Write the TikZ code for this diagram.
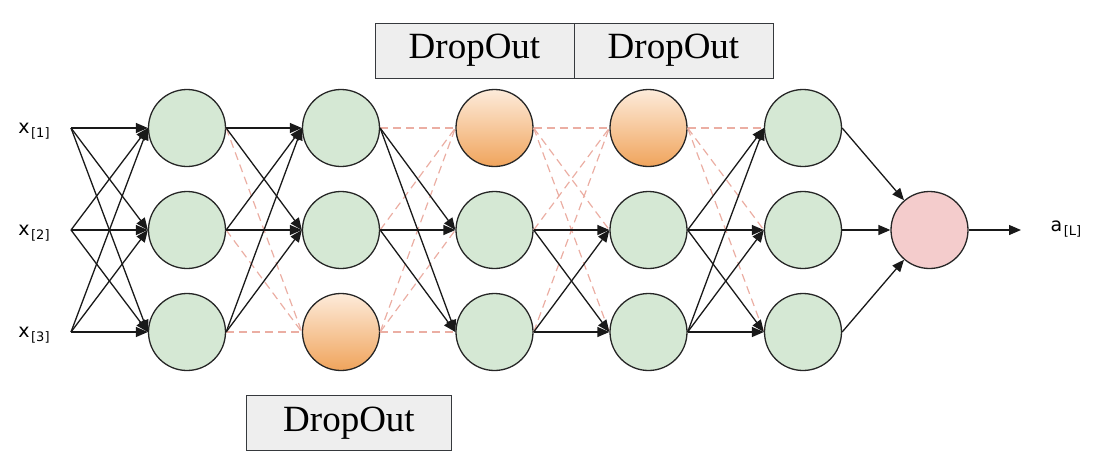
\documentclass[tikz,border=0pt]{standalone}
\usepackage{fontspec}
\setmainfont{Liberation Serif}
\newfontfamily\labelfont{DejaVu Sans}
\usetikzlibrary{arrows.meta}
\definecolor{greenfill}{HTML}{D5E8D4}
\definecolor{orangetop}{HTML}{FDEBDA}
\definecolor{orangebot}{HTML}{F0A45C}
\definecolor{redfill}{HTML}{F4CCCC}
\definecolor{dashcol}{HTML}{EBAEA3}
\definecolor{boxfill}{HTML}{EEEEEE}
\definecolor{boxline}{HTML}{36393D}
\newcommand{\insub}[2]{{\labelfont\fontsize{19}{19}\selectfont #1\hspace{1.5pt}\raisebox{-4.5pt}{\fontsize{13}{13}\selectfont #2}}}
\tikzset{
  neuron/.style={circle, draw=black!85, line width=1.3pt, minimum size=77pt, inner sep=0pt},
  live/.style={neuron, fill=greenfill},
  drop/.style={neuron, top color=orangetop, bottom color=orangebot},
  outn/.style={neuron, fill=redfill},
  conn/.style={-{Triangle[length=12pt,width=10pt]}, line width=1.3pt, black!90},
  ghost/.style={dashcol, dash pattern=on 8pt off 5pt, line width=1.2pt},
  dobox/.style={draw=boxline, fill=boxfill, line width=1pt, font=\fontsize{37}{37}\selectfont, minimum height=55pt, inner sep=0pt},
  lbl/.style={inner sep=0pt}
}
\begin{document}
\begin{tikzpicture}[x=1pt,y=-1pt]
\useasboundingbox (0,0) rectangle (1095,469);
% inputs
\coordinate (i1) at (71,128);
\coordinate (i2) at (71,230);
\coordinate (i3) at (71,332);
\node[lbl] (x1) at (34,131) {\insub{x}{[1]}};
\node[lbl] (x2) at (34,233) {\insub{x}{[2]}};
\node[lbl] (x3) at (34,335) {\insub{x}{[3]}};
% layers
\node[live] (a1) at (187,128) {};
\node[live] (a2) at (187,230) {};
\node[live] (a3) at (187,332) {};
\node[live] (b1) at (341,128) {};
\node[live] (b2) at (341,230) {};
\node[drop] (b3) at (341,332) {};
\node[drop] (c1) at (494.5,128) {};
\node[live] (c2) at (494.5,230) {};
\node[live] (c3) at (494.5,332) {};
\node[drop] (d1) at (648.5,128) {};
\node[live] (d2) at (648.5,230) {};
\node[live] (d3) at (648.5,332) {};
\node[live] (e1) at (803,128) {};
\node[live] (e2) at (803,230) {};
\node[live] (e3) at (803,332) {};
\node[outn] (o) at (929.5,230) {};
\coordinate (oend) at (1021,230);
\node[lbl] (ol) at (1066,229) {\insub{a}{[L]}};
% dropout boxes
\node[dobox, minimum width=199pt] (t1) at (474.5,50.5) {DropOut};
\node[dobox, minimum width=199pt] (t2) at (673.5,50.5) {DropOut};
\node[dobox, minimum width=205pt] (t3) at (349,423) {DropOut};
% dashed (dropped) connections
\foreach \i in {1,2,3} {
  \draw[ghost] (a\i.east) -- (b3.west);
  \draw[ghost] (b\i.east) -- (c1.west);
  \draw[ghost] (c\i.east) -- (d1.west);
  \draw[ghost] (d1.east) -- (e\i.west);
}
\draw[ghost] (c1.east) -- (d2.west);
\draw[ghost] (c1.east) -- (d3.west);
\draw[ghost] (b3.east) -- (c2.west);
\draw[ghost] (b3.east) -- (c3.west);
% solid connections
\foreach \i in {1,2,3} {
  \foreach \j in {1,2,3} {
    \draw[conn] (i\i) -- (a\j.west);
  }
  \draw[conn] (a\i.east) -- (b1.west);
  \draw[conn] (a\i.east) -- (b2.west);
  \draw[conn] (e\i.east) -- (o);
}
\foreach \i in {1,2} {
  \foreach \j in {2,3} {
    \draw[conn] (b\i.east) -- (c\j.west);
  }
}
\foreach \i in {2,3} {
  \draw[conn] (c\i.east) -- (d2.west);
  \draw[conn] (c\i.east) -- (d3.west);
  \foreach \j in {1,2,3} {
    \draw[conn] (d\i.east) -- (e\j.west);
  }
}
\draw[conn] (o) -- (oend);
\end{tikzpicture}
\end{document}
